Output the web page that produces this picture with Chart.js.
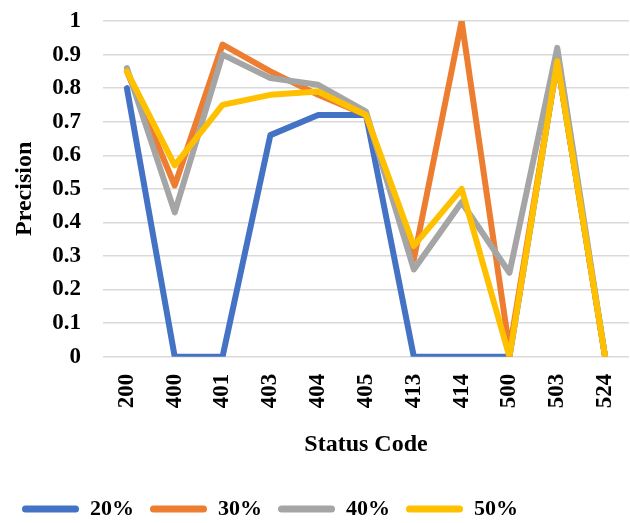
<!DOCTYPE html>
<html>
<head>
<meta charset="utf-8">
<script src="https://cdn.jsdelivr.net/npm/chart.js@4/dist/chart.umd.min.js"></script>
<style>
  html, body { margin: 0; padding: 0; background: #fff; }
  #wrap { width: 630px; height: 523px; }
</style>
</head>
<body>
<div id="wrap"><canvas id="c" width="630" height="523"></canvas></div>
<script>
// Status codes on the x axis
const statusCodes = ['200', '400', '401', '403', '404', '405', '413', '414', '500', '503', '524'];

// Precision per status code for each sampling ratio
const p20 = [0.80, 0.00, 0.00, 0.66, 0.72, 0.72, 0.00, 0.00, 0.00, 0.88, 0.00];
const p30 = [0.85, 0.51, 0.93, 0.85, 0.78, 0.72, 0.29, 1.00, 0.02, 0.88, 0.00];
const p40 = [0.86, 0.43, 0.90, 0.83, 0.81, 0.73, 0.26, 0.46, 0.25, 0.92, 0.00];
const p50 = [0.85, 0.57, 0.75, 0.78, 0.79, 0.72, 0.33, 0.50, 0.00, 0.88, 0.00];

const seriesNames = ['20%', '30%', '40%', '50%'];
const yTicks = [0, 0.1, 0.2, 0.3, 0.4, 0.5, 0.6, 0.7, 0.8, 0.9, 1];

const colors = ['#4472C4', '#ED7D31', '#A5A5A5', '#FFC000'];
const font = 'Liberation Serif, Times New Roman, serif';

// later series are painted over earlier ones
const mk = (label, data, color, order) => ({
  label, data, order,
  borderColor: color,
  backgroundColor: color,
  borderWidth: 6,
  pointRadius: 0,
  tension: 0,
  borderCapStyle: 'round',
  borderJoinStyle: 'round'
});

new Chart(document.getElementById('c'), {
  type: 'line',
  data: {
    labels: statusCodes,
    datasets: [
      mk(seriesNames[0], p20, colors[0], 4),
      mk(seriesNames[1], p30, colors[1], 3),
      mk(seriesNames[2], p40, colors[2], 2),
      mk(seriesNames[3], p50, colors[3], 1)
    ]
  },
  options: {
    responsive: false,
    animation: false,
    layout: { padding: { top: 21, right: 1, left: 6, bottom: -7 } },
    plugins: {
      legend: {
        position: 'bottom',
        align: 'start',
        labels: {
          boxWidth: 57,
          boxHeight: 7,
          useBorderRadius: true,
          borderRadius: 3.5,
          padding: 16,
          color: '#000',
          font: { family: font, size: 22, weight: 'bold' },
          sort: (a, b) => a.datasetIndex - b.datasetIndex,
          generateLabels: chart =>
            Chart.defaults.plugins.legend.labels.generateLabels(chart)
              .map(item => Object.assign(item, { lineWidth: 0 }))
        }
      },
      tooltip: { enabled: false }
    },
    scales: {
      x: {
        offset: true,
        grid: { display: false },
        border: { display: false },
        afterFit: s => { s.paddingLeft = 0; s.paddingRight = 0; },
        ticks: {
          color: '#000',
          maxRotation: 90,
          minRotation: 90,
          padding: 9,
          font: { family: font, size: 23, weight: 'bold' }
        },
        title: {
          display: true,
          text: 'Status Code',
          color: '#000',
          padding: { top: 13, bottom: 23 },
          font: { family: font, size: 24, weight: 'bold' }
        }
      },
      y: {
        min: 0,
        max: 1,
        afterBuildTicks: axis => { axis.ticks = yTicks.map(v => ({ value: v })); },
        afterFit: s => { s.paddingTop = 0; s.paddingBottom = 0; s.width = 97; },
        grid: { color: '#d9d9d9', lineWidth: 1.5, drawTicks: false },
        border: { display: false },
        ticks: {
          color: '#000',
          padding: 22,
          callback: v => String(Math.round(v * 10) / 10),
          font: { family: font, size: 23, weight: 'bold' }
        },
        title: {
          display: true,
          text: 'Precision',
          color: '#000',
          padding: { top: 4, bottom: 6 },
          font: { family: font, size: 24, weight: 'bold' }
        }
      }
    }
  }
});
</script>
</body>
</html>
